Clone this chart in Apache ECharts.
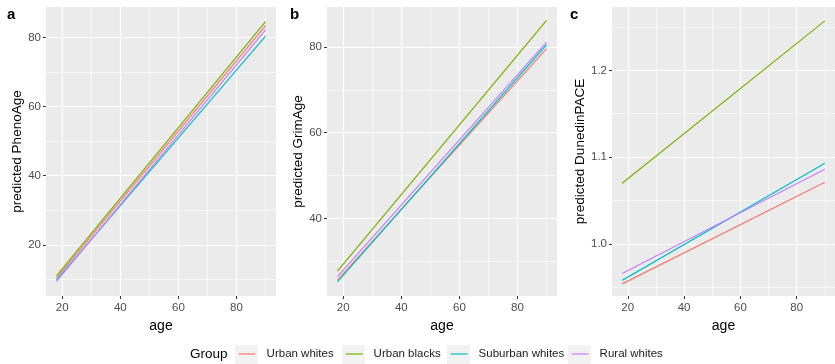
<!DOCTYPE html>
<html>
<head>
<meta charset="utf-8">
<script src="https://cdn.jsdelivr.net/npm/echarts@6/dist/echarts.min.js"></script>
<style>
html, body { margin: 0; padding: 0; background: #fff; }
#chart { width: 835px; height: 364px; }
</style>
</head>
<body>
<div id="chart"></div>
<script>
// predicted values at the two ends of the age range, one pair per group
var ages = [18, 90];
var groups = ['Urban whites', 'Urban blacks', 'Suburban whites', 'Rural whites'];
var colors = ['#F8766D', '#7CAE00', '#00BFC4', '#C77CFF'];
var phenoAge = [[10.4, 83.4], [11.0, 84.6], [9.8, 80.4], [9.4, 82.2]];
var grimAge = [[25.6, 79.6], [27.7, 86.2], [25.2, 80.5], [26.4, 81.1]];
var dunedinPace = [[0.954, 1.071], [1.070, 1.257], [0.958, 1.093], [0.966, 1.086]];

var xTicks = [20, 40, 60, 80];
var xMinor = [30, 50, 70, 90];
var phenoTicks = [20, 40, 60, 80];
var phenoMinor = [10, 30, 50, 70];
var grimTicks = [40, 60, 80];
var grimMinor = [30, 50, 70];
var paceTicks = [1.0, 1.1, 1.2];
var paceMinor = [0.95, 1.05, 1.15, 1.25];

var FONT = 'Liberation Sans, Arial, sans-serif';

var panels = [
    { letter: 'a', name: 'predicted PhenoAge', vals: phenoAge, ticks: phenoTicks, minor: phenoMinor,
      ymin: 5.2, ymax: 88.8, left: 46, width: 230, gap: 21, lx: 7, digits: 0 },
    { letter: 'b', name: 'predicted GrimAge', vals: grimAge, ticks: grimTicks, minor: grimMinor,
      ymin: 21.9, ymax: 89.3, left: 327, width: 230, gap: 22, lx: 290, digits: 0 },
    { letter: 'c', name: 'predicted DunedinPACE', vals: dunedinPace, ticks: paceTicks, minor: paceMinor,
      ymin: 0.940, ymax: 1.273, left: 612, width: 228, gap: 25, lx: 570, digits: 1 }
];

var grids = [], xAxes = [], yAxes = [], series = [], graphics = [];

panels.forEach(function (p, i) {
    grids.push({
        left: p.left, top: 7, width: p.width, height: 289,
        show: true, backgroundColor: '#EBEBEB', borderWidth: 0
    });
    // main axes: labels, ticks, major grid lines
    xAxes.push({
        type: 'value', gridIndex: i, min: 14.4, max: 93.6,
        name: 'age', nameLocation: 'middle', nameGap: 21,
        nameTextStyle: { fontSize: 14, color: '#000', fontFamily: FONT },
        axisLine: { show: false },
        axisTick: { show: true, length: 3, customValues: xTicks, lineStyle: { color: '#333', width: 1 } },
        axisLabel: { customValues: xTicks, margin: 6, fontSize: 11.5, color: '#4d4d4d', fontFamily: FONT },
        splitLine: { show: true, lineStyle: { color: '#fff', width: 1.2 } },
        z: 1
    });
    yAxes.push({
        type: 'value', gridIndex: i, min: p.ymin, max: p.ymax,
        name: p.name, nameLocation: 'middle', nameGap: p.gap,
        nameTextStyle: { fontSize: 13.5, color: '#000', fontFamily: FONT },
        axisLine: { show: false },
        axisTick: { show: true, length: 3, customValues: p.ticks, lineStyle: { color: '#333', width: 1 } },
        axisLabel: {
            customValues: p.ticks, margin: 5, fontSize: 11.5, color: '#4d4d4d', fontFamily: FONT,
            formatter: function (v) { return v.toFixed(p.digits); }
        },
        splitLine: { show: true, lineStyle: { color: '#fff', width: 1.2 } },
        z: 1
    });
    graphics.push({
        type: 'text', left: p.lx, top: 7,
        style: { text: p.letter, font: 'bold 15px ' + FONT, fill: '#000' }
    });
});

// hidden axes that only draw the minor grid lines
panels.forEach(function (p, i) {
    xAxes.push({
        type: 'value', gridIndex: i, min: 14.4, max: 93.6, position: 'top',
        axisLine: { show: false }, axisLabel: { show: false },
        axisTick: { show: false, customValues: xMinor },
        splitLine: { show: true, lineStyle: { color: '#fff', width: 0.6 } }
    });
    yAxes.push({
        type: 'value', gridIndex: i, min: p.ymin, max: p.ymax, position: 'right',
        axisLine: { show: false }, axisLabel: { show: false },
        axisTick: { show: false, customValues: p.minor },
        splitLine: { show: true, lineStyle: { color: '#fff', width: 0.6 } }
    });
});

panels.forEach(function (p, i) {
    groups.forEach(function (g, k) {
        series.push({
            name: g, type: 'line', xAxisIndex: i, yAxisIndex: i,
            data: ages.map(function (a, j) { return [a, p.vals[k][j]]; }),
            symbol: 'none', silent: true,
            lineStyle: { color: colors[k], width: 1.2 },
            itemStyle: { color: colors[k] }
        });
    });
});

// legend: "Group" title, grey key boxes, then one legend per group
var legendLeft = [238, 345, 450, 571];
graphics.push({
    type: 'text', left: 190, top: 347,
    style: { text: 'Group', font: '13.5px ' + FONT, fill: '#000' }
});
var legends = groups.map(function (g, k) {
    graphics.push({
        type: 'rect', left: legendLeft[k] - 3, top: 345, z: -1,
        shape: { width: 23, height: 20 }, style: { fill: '#F2F2F2' }
    });
    return {
        data: [g], left: legendLeft[k], top: 348, padding: 0,
        itemWidth: 17, itemHeight: 14, selectedMode: false,
        itemStyle: { opacity: 0 },
        lineStyle: { width: 1.2 },
        textStyle: { fontSize: 11.5, color: '#1a1a1a', fontFamily: FONT, padding: [0, 0, 0, 6] }
    };
});

var myChart = echarts.init(document.getElementById('chart'));
myChart.setOption({
    animation: false,
    grid: grids,
    xAxis: xAxes,
    yAxis: yAxes,
    legend: legends,
    graphic: graphics,
    series: series
});
</script>
</body>
</html>
